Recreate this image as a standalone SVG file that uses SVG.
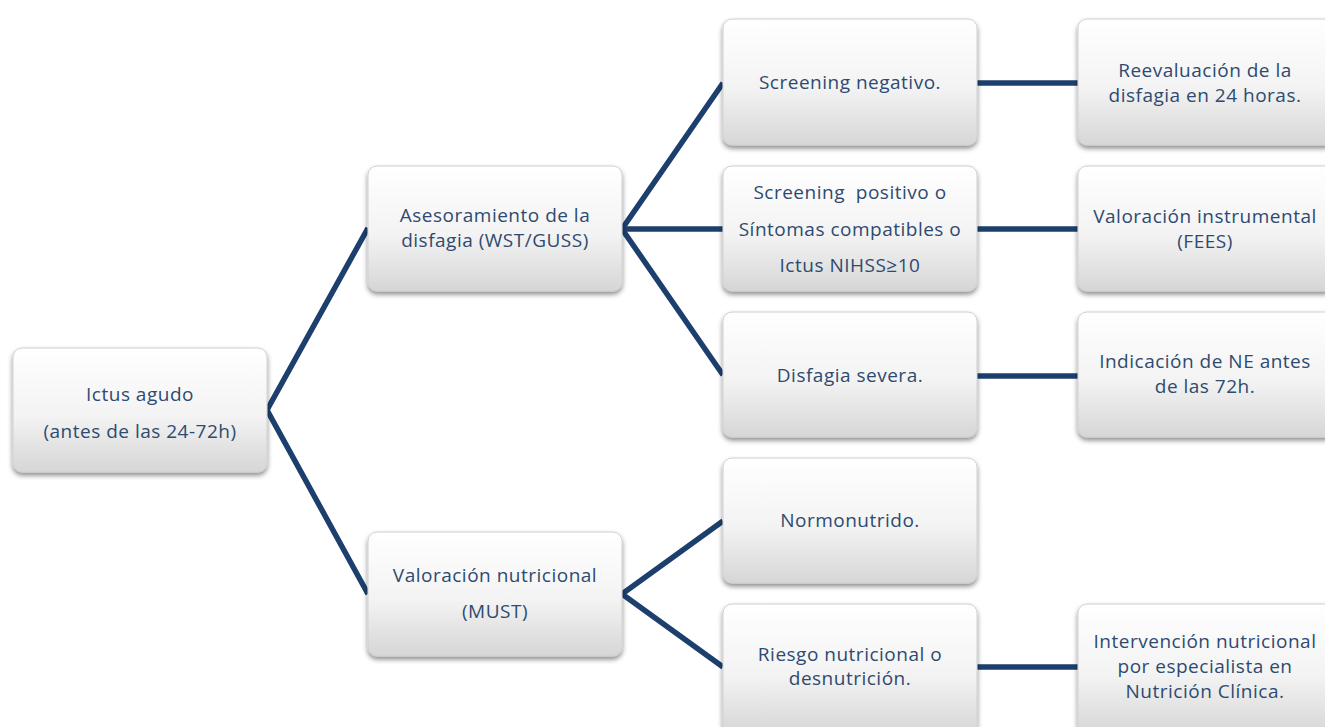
<svg xmlns="http://www.w3.org/2000/svg" width="1325" height="727" viewBox="0 0 1325 727">
<defs>
<linearGradient id="g" x1="0" y1="0" x2="0" y2="1">
<stop offset="0" stop-color="#ffffff"/>
<stop offset="0.55" stop-color="#f3f3f3"/>
<stop offset="1" stop-color="#d6d6d6"/>
</linearGradient>
<filter id="sh" x="-10%" y="-10%" width="120%" height="130%">
<feDropShadow dx="0" dy="3" stdDeviation="2.5" flood-color="#000" flood-opacity="0.45"/>
</filter>
<style>
.box{fill:url(#g);stroke:#d0d0d0;stroke-width:1;filter:url(#sh)}
.t{font-family:"Open Sans","Liberation Sans",sans-serif;font-size:19px;letter-spacing:0.5px;fill:#2e4a70;text-anchor:middle}
.c{stroke:#1c3f6e;stroke-width:5.5;fill:none;stroke-linejoin:miter}
</style>
</defs>
<rect width="1325" height="727" fill="#ffffff"/>
<g id="connectors">
<polyline class="c" points="368,228 267,410 368,594"/>
<polyline class="c" points="723,83 622,229 723,375"/>
<line class="c" x1="622" y1="229" x2="723" y2="229"/>
<polyline class="c" points="723,521 622,594 723,667"/>
<line class="c" x1="977" y1="83" x2="1078" y2="83"/>
<line class="c" x1="977" y1="229" x2="1078" y2="229"/>
<line class="c" x1="977" y1="376" x2="1078" y2="376"/>
<line class="c" x1="977" y1="667" x2="1078" y2="667"/>
</g>
<g id="n-ictus">
<rect class="box" x="13" y="348" width="254" height="124" rx="9"/>
<text class="t" x="140" y="401">Ictus agudo</text>
<text class="t" x="140" y="438">(antes de las 24-72h)</text>
</g>
<g id="n-asesoramiento">
<rect class="box" x="368" y="166" width="254" height="125" rx="9"/>
<text class="t" x="495" y="222">Asesoramiento de la</text>
<text class="t" x="495" y="247">disfagia (WST/GUSS)</text>
</g>
<g id="n-valoracion">
<rect class="box" x="368" y="532" width="254" height="124" rx="9"/>
<text class="t" x="495" y="582">Valoración nutricional</text>
<text class="t" x="495" y="618">(MUST)</text>
</g>
<g id="n-screen-neg">
<rect class="box" x="723" y="19" width="254" height="126" rx="9"/>
<text class="t" x="850" y="89">Screening negativo.</text>
</g>
<g id="n-screen-pos">
<rect class="box" x="723" y="166" width="254" height="125" rx="9"/>
<text class="t" x="850" y="199" xml:space="preserve">Screening  positivo o</text>
<text class="t" x="850" y="236">Síntomas compatibles o</text>
<text class="t" x="850" y="272">Ictus NIHSS≥10</text>
</g>
<g id="n-disfagia">
<rect class="box" x="723" y="312" width="254" height="125" rx="9"/>
<text class="t" x="850" y="382">Disfagia severa.</text>
</g>
<g id="n-normo">
<rect class="box" x="723" y="458" width="254" height="125" rx="9"/>
<text class="t" x="850" y="527">Normonutrido.</text>
</g>
<g id="n-riesgo">
<rect class="box" x="723" y="604" width="254" height="130" rx="9"/>
<text class="t" x="850" y="661">Riesgo nutricional o</text>
<text class="t" x="850" y="685">desnutrición.</text>
</g>
<g id="n-reeval">
<rect class="box" x="1078" y="19" width="256" height="126" rx="9"/>
<text class="t" x="1205" y="77">Reevaluación de la</text>
<text class="t" x="1205" y="102">disfagia en 24 horas.</text>
</g>
<g id="n-instrumental">
<rect class="box" x="1078" y="166" width="256" height="125" rx="9"/>
<text class="t" x="1205" y="223">Valoración instrumental</text>
<text class="t" x="1205" y="248">(FEES)</text>
</g>
<g id="n-indicacion">
<rect class="box" x="1078" y="312" width="256" height="125" rx="9"/>
<text class="t" x="1205" y="368">Indicación de NE antes</text>
<text class="t" x="1205" y="393">de las 72h.</text>
</g>
<g id="n-intervencion">
<rect class="box" x="1078" y="604" width="256" height="130" rx="9"/>
<text class="t" x="1205" y="648">Intervención nutricional</text>
<text class="t" x="1205" y="673">por especialista en</text>
<text class="t" x="1205" y="698">Nutrición Clínica.</text>
</g>
</svg>
